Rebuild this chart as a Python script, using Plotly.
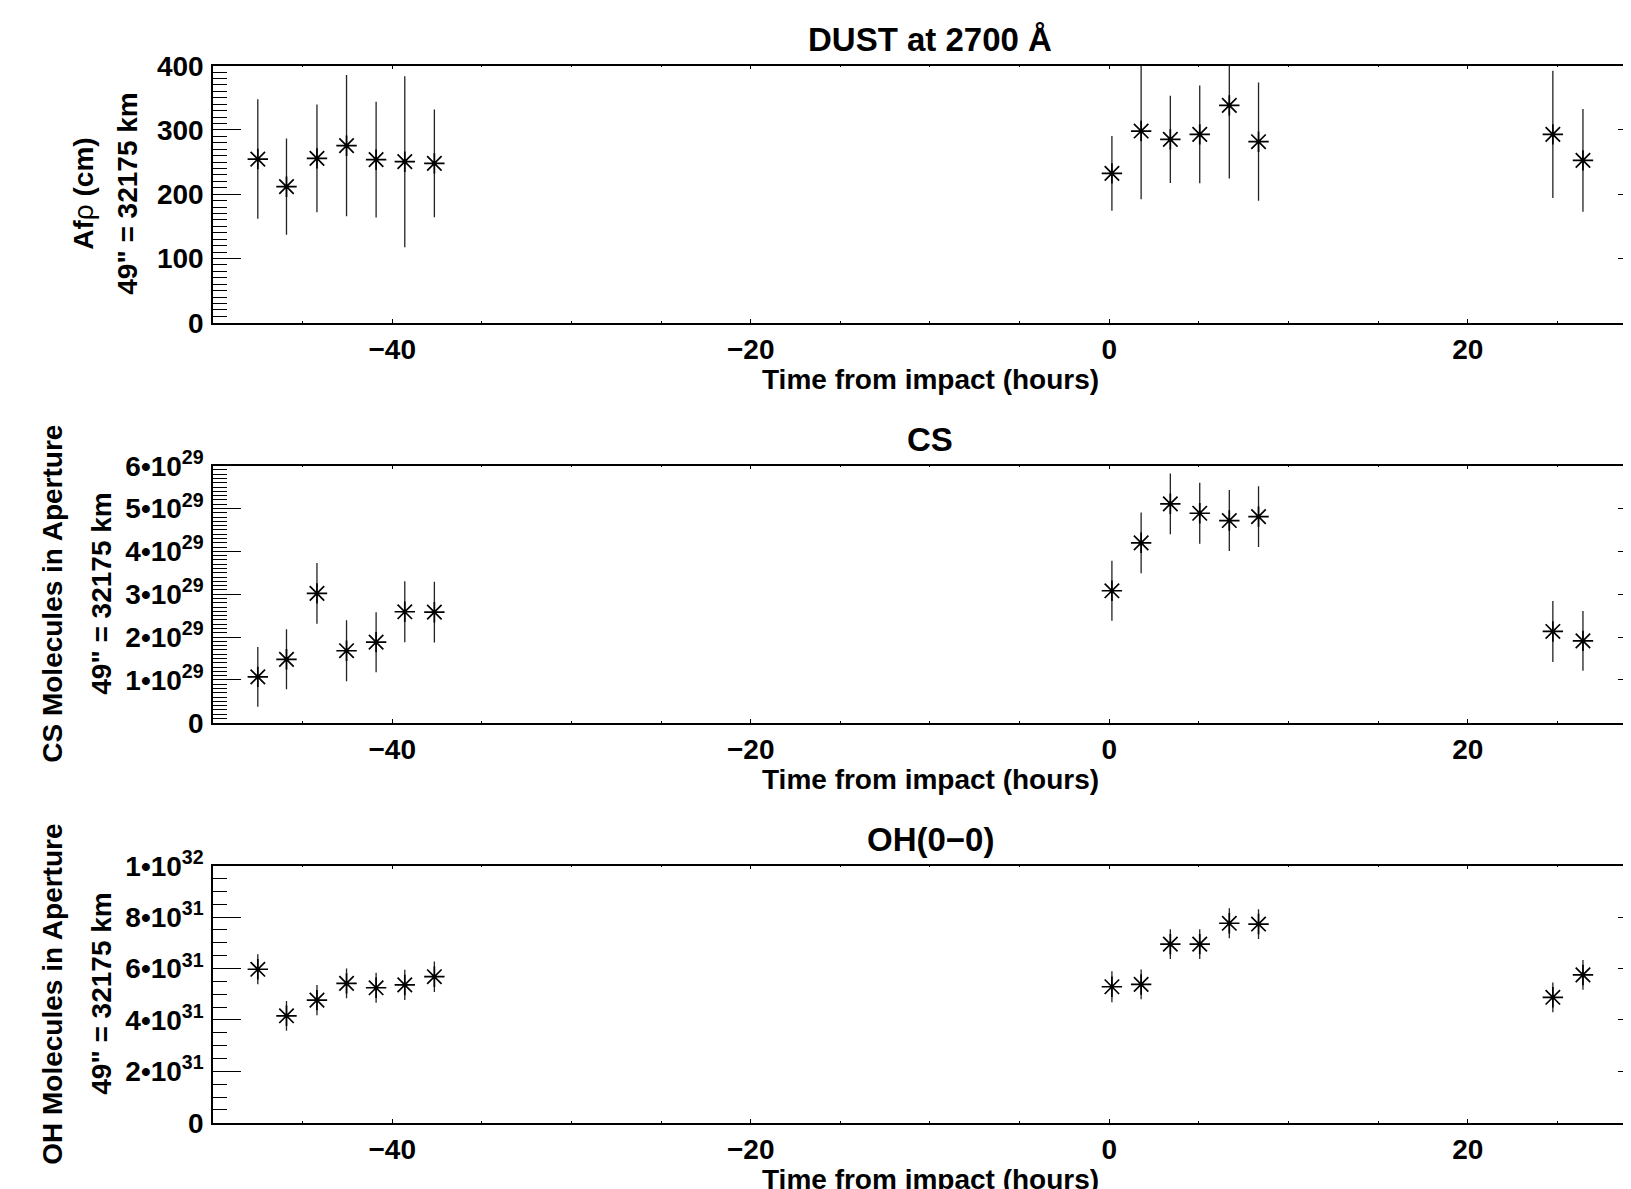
import plotly.graph_objects as go

# ---------------- data ----------------
hours = [-47.5, -45.9, -44.2, -42.55, -40.9, -39.3, -37.65,
         0.15, 1.78, 3.41, 5.05, 6.7, 8.33, 24.75, 26.43]

dust = [254.7, 211.7, 255.8, 275.5, 253.7, 250.6, 248.0,
        232.4, 298.3, 285.3, 293.1, 338.3, 281.7, 293.1, 252.7]
dust_err = [93, 75, 84, 110, 90, 133, 84,
            58, 106, 68, 76, 114, 92, 99, 80]

cs = [1.07e29, 1.48e29, 3.02e29, 1.68e29, 1.88e29, 2.59e29, 2.58e29,
      3.08e29, 4.20e29, 5.11e29, 4.89e29, 4.72e29, 4.81e29, 2.13e29, 1.91e29]
cs_err = [0.70e29, 0.70e29, 0.71e29, 0.71e29, 0.70e29, 0.71e29, 0.71e29,
          0.70e29, 0.71e29, 0.71e29, 0.71e29, 0.71e29, 0.71e29, 0.71e29, 0.70e29]

oh = [5.97e31, 4.16e31, 4.77e31, 5.42e31, 5.25e31, 5.36e31, 5.68e31,
      5.29e31, 5.38e31, 6.95e31, 6.95e31, 7.76e31, 7.73e31, 4.88e31, 5.75e31]
oh_err = [0.58e31, 0.58e31, 0.59e31, 0.58e31, 0.58e31, 0.59e31, 0.59e31,
          0.60e31, 0.58e31, 0.58e31, 0.58e31, 0.58e31, 0.58e31, 0.58e31, 0.58e31]

x_tickvals = [-40, -20, 0, 20]
x_ticktext = ["\u221240", "\u221220", "0", "20"]

dust_tickvals = [0, 100, 200, 300, 400]
dust_ticktext = ["0", "100", "200", "300", "400"]

cs_tickvals = [0, 1e29, 2e29, 3e29, 4e29, 5e29, 6e29]
cs_ticktext = ["0", "1\u202210<sup>29</sup>", "2\u202210<sup>29</sup>", "3\u202210<sup>29</sup>",
               "4\u202210<sup>29</sup>", "5\u202210<sup>29</sup>", "6\u202210<sup>29</sup>"]

oh_tickvals = [0, 2e31, 4e31, 6e31, 8e31, 1e32]
oh_ticktext = ["0", "2\u202210<sup>31</sup>", "4\u202210<sup>31</sup>", "6\u202210<sup>31</sup>",
               "8\u202210<sup>31</sup>", "1\u202210<sup>32</sup>"]

panel_titles = ["DUST at 2700 \u00c5", "CS", "OH(0\u22120)"]
x_title = "Time from impact (hours)"
y_title_1 = ["<b>Af</b>\u03c1<b> (cm)</b>", "<b>CS Molecules in Aperture</b>", "<b>OH Molecules in Aperture</b>"]
y_title_2 = "49\" = 32175 km"

# ---------------- layout geometry ----------------
OFF = 8                      # default page body margin
W, H = 1631 - OFF, 1189 - OFF
L = 212.5 - OFF
FONT = "Liberation Sans, Arial, Helvetica, sans-serif"

def fy(px):                  # px = window pixel
    return 1 - (px - OFF) / H

def fx(px):
    return (px - OFF - L) / (W - L)

panels = [(65.7, 322.7), (465.7, 722.7), (865.7, 1122.7)]
series = [(dust, dust_err, dust_tickvals, dust_ticktext, [0, 400], 10),
          (cs, cs_err, cs_tickvals, cs_ticktext, [0, 6e29], 1e28),
          (oh, oh_err, oh_tickvals, oh_ticktext, [0, 1e32], 5e30)]
ytitle_x = [(83, 127), (52, 101), (52, 101)]

fig = go.Figure()
layout = dict(template="none", width=W, height=H,
              margin=dict(l=L, r=0, t=0, b=0, pad=0, autoexpand=False),
              paper_bgcolor="white", plot_bgcolor="white", showlegend=False,
              font=dict(family=FONT, size=28, color="black"))
annotations = []

for i, ((top, bot), (vals, errs, tv, tt, yr, mdt)) in enumerate(zip(panels, series)):
    n = i + 1
    xa = "x" if n == 1 else f"x{n}"
    ya = "y" if n == 1 else f"y{n}"
    yr_name = f"y{n + 3}"
    fig.add_trace(go.Scatter(
        x=hours, y=vals, xaxis=xa, yaxis=ya, mode="markers",
        marker=dict(symbol="asterisk-open", size=17, color="black",
                    line=dict(width=1.7, color="black")),
        error_y=dict(type="data", array=errs, visible=True, width=0,
                     thickness=1.3, color="#222222"),
        cliponaxis=True))
    # empty trace to host the right-hand tick axis
    fig.add_trace(go.Scatter(x=[], y=[], xaxis=xa, yaxis=yr_name, showlegend=False))

    dom = [fy(bot), fy(top)]
    layout[f"xaxis{'' if n == 1 else n}"] = dict(
        domain=[0, 1], anchor=ya, range=[-50, 29.11], automargin=False,
        tickmode="array", tickvals=x_tickvals, ticktext=x_ticktext,
        ticks="inside", ticklen=4, tickwidth=1.3, tickcolor="black",
        minor=dict(dtick=5, tick0=0, ticks="inside", ticklen=2, tickwidth=1.3, tickcolor="black",
                   showgrid=False),
        showline=True, linecolor="black", linewidth=1.5, mirror="ticks",
        showgrid=False, zeroline=False, ticklabelstandoff=1,
        tickfont=dict(size=28, family=FONT, weight="bold", color="black"))
    layout[f"yaxis{'' if n == 1 else n}"] = dict(
        domain=dom, anchor=xa, range=yr, automargin=False,
        tickmode="array", tickvals=tv, ticktext=tt,
        ticks="inside", ticklen=28, tickwidth=1.3, tickcolor="black",
        minor=dict(dtick=mdt, tick0=0, ticks="inside", ticklen=14, tickwidth=1.3, tickcolor="black",
                   showgrid=False),
        showline=True, linecolor="black", linewidth=1.5, mirror=False,
        showgrid=False, zeroline=False, ticklabelstandoff=2,
        tickfont=dict(size=28, family=FONT, weight="bold", color="black"))
    layout[f"yaxis{n + 3}"] = dict(
        overlaying=ya, anchor=xa, side="right", range=yr, automargin=False,
        tickmode="array", tickvals=tv, ticks="inside", ticklen=13, tickwidth=1.3,
        tickcolor="black", showticklabels=False, showline=False, showgrid=False,
        zeroline=False)

    cy = (top + bot) / 2
    annotations.append(dict(text=f"<b>{panel_titles[i]}</b>", xref="paper", yref="paper",
                            x=fx(930), y=fy(top - 26), xanchor="center", yanchor="middle",
                            showarrow=False, font=dict(size=33, family=FONT, color="black")))
    annotations.append(dict(text=f"<b>{x_title}</b>", xref="paper", yref="paper",
                            x=fx(930), y=fy(bot + 57), xanchor="center", yanchor="middle",
                            showarrow=False, font=dict(size=28, family=FONT, color="black")))
    l1x, l2x = ytitle_x[i]
    annotations.append(dict(text=y_title_1[i], xref="paper", yref="paper",
                            x=fx(l1x), y=fy(cy), xanchor="center", yanchor="middle",
                            textangle=-90, showarrow=False,
                            font=dict(size=28, family=FONT, color="black")))
    annotations.append(dict(text=f"<b>{y_title_2}</b>", xref="paper", yref="paper",
                            x=fx(l2x), y=fy(cy), xanchor="center", yanchor="middle",
                            textangle=-90, showarrow=False,
                            font=dict(size=28, family=FONT, color="black")))

layout["annotations"] = annotations
fig.update_layout(**layout)
fig.write_html("out.html")
